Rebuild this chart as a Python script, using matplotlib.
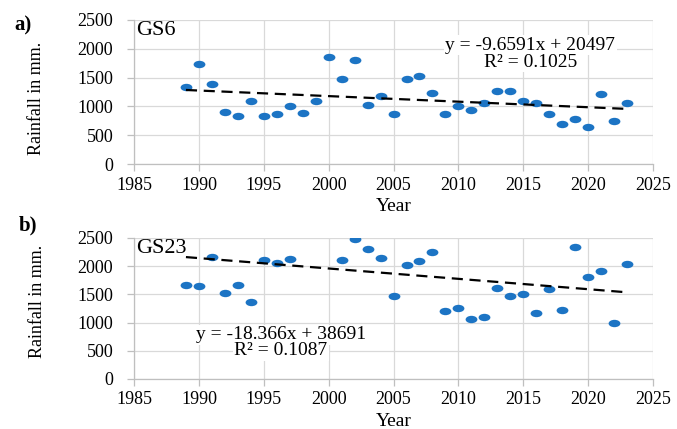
import numpy as np
import matplotlib
matplotlib.use("Agg")
import matplotlib.pyplot as plt
from matplotlib.path import Path
from matplotlib.transforms import Affine2D

# Rainfall (mm) per year for the two gauging stations
years_gs6 = list(range(1989, 2024))
rain_gs6 = [1330, 1735, 1385, 895, 840, 1095, 840, 860, 1000, 880, 1090,
            1850, 1470, 1810, 1025, 1175, 875, 1470, 1535, 1235, 870,
            1005, 945, 1060, 1270, 1275, 1100, 1060, 870, 695, 785,
            650, 1220, 755, 1060]

years_gs23 = [1989, 1990, 1991, 1992, 1993, 1994, 1995, 1996, 1997,
              2001, 2002, 2003, 2004, 2005, 2006, 2007, 2008, 2009, 2010,
              2011, 2012, 2013, 2014, 2015, 2016, 2017, 2018, 2019, 2020,
              2021, 2022, 2023]
rain_gs23 = [1665, 1645, 2160, 1530, 1665, 1365, 2110, 2055, 2125,
             2110, 2490, 2305, 2145, 1465, 2025, 2100, 2255, 1200, 1250,
             1070, 1090, 1620, 1465, 1500, 1170, 1595, 1230, 2340, 1800,
             1915, 985, 2040]

# trend lines as printed on the chart
trend_gs6 = (-9.6591, 20497)
trend_gs23 = (-18.366, 38691)
r2_gs6 = 0.1025
r2_gs23 = 0.1087

SERIF = "Liberation Serif"
DOT = "#1C74C4"
GRID = "#D9D9D9"

# the reference is stretched sideways, so the dots are ellipses
ellipse = Path.unit_circle().transformed(Affine2D().scale(1.6, 1.0))

fig = plt.figure(figsize=(6.77, 4.29), dpi=100)
ax1 = fig.add_axes([0.198, 0.6177, 0.7666, 0.3357])
ax2 = fig.add_axes([0.198, 0.1166, 0.7666, 0.3287])


def draw_panel(ax, years, rain, trend, r2, name, eq_pos):
    ax.plot(years, rain, linestyle="none", marker=ellipse, markersize=8.5,
            color=DOT, markeredgewidth=0, zorder=3)

    xs = np.array([years[0], years[-1]])
    ax.plot(xs, trend[0] * xs + trend[1], color="black", lw=1.6,
            linestyle=(0, (5, 3)), zorder=4)

    ax.set_xlim(1985, 2025)
    ax.set_ylim(0, 2500)
    ax.set_xticks(range(1985, 2026, 5))
    ax.set_yticks(range(0, 2501, 500))
    ax.grid(True, color=GRID, lw=0.9)
    ax.set_axisbelow(True)
    for side in ["top", "right"]:
        ax.spines[side].set_visible(False)
    for side in ["left", "bottom"]:
        ax.spines[side].set_color("#BFBFBF")
        ax.spines[side].set_linewidth(0.9)
    ax.tick_params(axis="both", colors="#BFBFBF", length=5, width=0.9,
                   labelcolor="black", labelsize=13)
    ax.tick_params(axis="y", pad=10)
    ax.tick_params(axis="x", pad=4)
    for lbl in ax.get_xticklabels() + ax.get_yticklabels():
        lbl.set_fontfamily(SERIF)

    ax.set_xlabel("Year", fontfamily=SERIF, fontsize=14, labelpad=3)

    ax.text(1985.15, 2320, name, fontfamily=SERIF, fontsize=16,
            ha="left", va="center", zorder=5)

    sign = "-" if trend[0] < 0 else ""
    eq = f"y = {sign}{abs(trend[0]):g}x + {trend[1]:g}"
    ax.text(eq_pos[0], eq_pos[1], eq, fontfamily=SERIF, fontsize=14,
            ha="center", va="center", zorder=5,
            bbox=dict(facecolor="white", edgecolor="none", pad=1))
    ax.text(eq_pos[0], eq_pos[2], f"R² = {r2:.4f}", fontfamily=SERIF,
            fontsize=14, ha="center", va="center", zorder=5,
            bbox=dict(facecolor="white", edgecolor="none", pad=1))


draw_panel(ax1, years_gs6, rain_gs6, trend_gs6, r2_gs6, "GS6",
           (2015.55, 2065, 1770))
draw_panel(ax2, years_gs23, rain_gs23, trend_gs23, r2_gs23, "GS23",
           (1996.3, 785, 500))

fig.text(36.5 / 677, 1 - 98 / 429, "Rainfall in mm.", fontfamily=SERIF,
         fontsize=13, rotation=90, ha="center", va="center")
fig.text(37 / 677, 1 - 301 / 429, "Rainfall in mm.", fontfamily=SERIF,
         fontsize=13, rotation=90, ha="center", va="center")

fig.text(23 / 677, 1 - 25 / 429, "a)", fontfamily=SERIF, fontsize=15,
         fontweight="bold", ha="center", va="center")
fig.text(28 / 677, 1 - 225 / 429, "b)", fontfamily=SERIF, fontsize=15,
         fontweight="bold", ha="center", va="center")

fig.savefig("out.png", dpi=100)
